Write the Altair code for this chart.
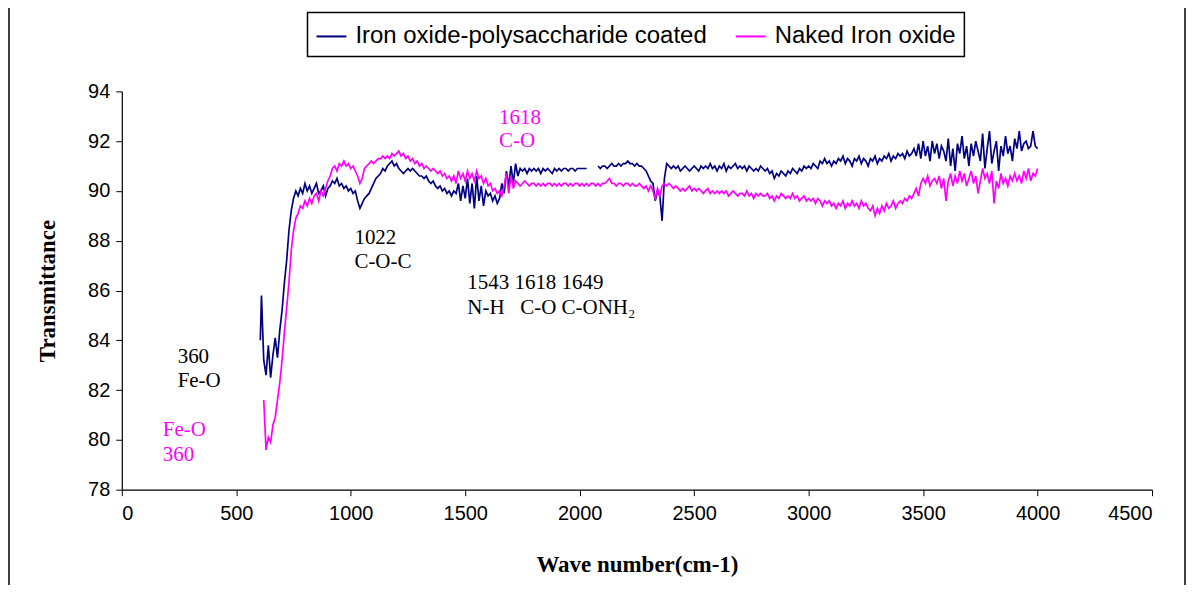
import altair as alt
import pandas as pd
import numpy as np

# wave number grid (cm-1)
wn = [605] + list(range(610, 4001, 10))

coated = [
    84.0,
    85.8, 83.2, 82.6, 83.8, 82.5, 83.4, 84.1, 83.3, 84.4, 85.2,
    86.3, 87.2, 88.4, 89.2, 89.7, 90.0, 89.8, 90.1, 89.9, 90.3,
    90.0, 90.2, 89.9, 90.1, 90.3, 89.9, 90.0, 90.2, 89.8, 90.1,
    90.2, 90.4, 90.3, 90.5, 90.2, 90.3, 90.1, 90.2, 90.0, 90.1,
    89.9, 90.0, 89.6, 89.3, 89.5, 89.7, 89.8, 89.9, 90.1, 90.3,
    90.5, 90.6, 90.7, 90.9, 90.8, 91.0, 91.1, 91.2, 91.0, 91.1,
    90.9, 90.8, 90.7, 90.8, 90.9, 90.8, 90.9, 90.8, 90.7, 90.6,
    90.6, 90.5, 90.6, 90.4, 90.3, 90.4, 90.2, 90.1, 90.2, 90.0,
    90.1, 89.9, 90.0, 89.8, 90.0, 89.9, 90.3, 89.6, 90.2, 89.7,
    90.5, 89.5, 90.3, 89.3, 90.6, 89.6, 90.2, 89.4, 90.0, 89.8,
    89.9, 89.6, 89.8, 89.5, 89.7, 90.3, 89.9, 90.8, 90.2, 91.0,
    90.3, 91.1, 90.6, 90.9, 90.8, 90.9, 90.7, 90.9, 90.8, 90.9,
    90.8, 90.9, 90.7, 90.9, 90.8, 90.9, 90.8, 90.7, 90.9, 90.8,
    90.9, 90.8, 90.9, 90.9, 90.8, 90.9, 90.9, 90.8, 90.9, 90.9,
    90.9, 90.9, 90.9, None, None, None, None, 91.0, 90.9, 91.0,
    91.0, 90.9, 91.0, 91.1, 91.0, 91.0, 91.1, 91.0, 91.1, 91.1,
    91.2, 91.1, 91.1, 91.0, 91.1, 91.0, 91.0, 90.9, 90.8, 90.6,
    90.4, 90.3, 89.6, 90.0, 89.8, 88.8, 90.5, 91.1, 91.0, 90.9,
    91.0, 90.9, 91.0, 90.8, 90.9, 91.0, 90.9, 90.8, 90.9, 91.0,
    90.9, 90.8, 91.0, 90.9, 91.0, 90.9, 91.1, 90.9, 91.0, 90.8,
    91.0, 90.9, 91.1, 90.8, 91.0, 90.9, 91.0, 91.1, 90.9, 91.0,
    90.9, 91.0, 90.8, 91.0, 90.9, 90.8, 90.9, 90.8, 91.0, 90.9,
    90.8, 90.9, 90.7, 90.8, 90.5, 90.7, 90.6, 90.8, 90.7, 90.6,
    90.8, 90.7, 90.9, 90.8, 90.7, 90.9, 90.8, 91.0, 90.9, 91.0,
    90.9, 91.1, 91.0, 90.9, 91.2, 91.1, 91.3, 91.1, 91.2, 91.0,
    91.2, 91.1, 91.3, 91.2, 91.4, 91.1, 91.3, 91.2, 91.0, 91.3,
    91.2, 91.4, 91.1, 91.3, 91.2, 91.0, 91.3, 91.2, 91.4, 91.1,
    91.3, 91.2, 91.4, 91.3, 91.5, 91.2, 91.4, 91.3, 91.5, 91.4,
    91.5, 91.3, 91.6, 91.4, 91.5, 91.7, 91.4, 91.9, 91.3, 92.0,
    91.4, 91.8, 91.2, 92.0, 91.5, 91.9, 91.3, 91.8, 91.6, 91.2,
    92.1, 91.0, 91.7, 90.8, 91.9, 91.5, 92.2, 91.3, 91.8, 91.0,
    91.9, 91.4, 92.0, 91.6, 91.2, 92.3, 90.9, 91.7, 92.4, 91.1,
    91.6, 92.0, 90.8, 91.8, 91.4, 92.2, 91.5, 91.8, 91.2, 92.1,
    91.7, 92.4, 91.6, 91.9, 92.0, 91.7, 91.8, 92.4, 91.8, 91.7,
]

naked = [
    None,
    None, 81.6, 79.6, 80.1, 79.9, 80.6, 80.9, 81.6, 82.3, 83.2,
    84.3, 85.3, 86.3, 87.6, 88.4, 88.9, 89.1, 89.4, 89.3, 89.6,
    89.4, 89.7, 89.5, 89.8, 89.9, 89.6, 90.0, 89.8, 90.1, 90.4,
    90.6, 90.9, 91.0, 90.8, 91.1, 91.0, 91.2, 91.0, 91.1, 90.9,
    91.0, 90.8, 90.6, 90.3, 90.5, 90.9, 91.0, 91.1, 91.2, 91.1,
    91.2, 91.3, 91.3, 91.4, 91.3, 91.4, 91.3, 91.5, 91.4, 91.5,
    91.6, 91.4, 91.5, 91.3, 91.4, 91.2, 91.3, 91.1, 91.2, 91.0,
    91.1, 90.9, 91.0, 90.9, 90.8, 90.9, 90.8, 90.7, 90.8, 90.6,
    90.7, 90.5, 90.6, 90.4, 90.6, 90.3, 90.8, 90.5, 90.7, 90.4,
    90.8, 90.5, 90.7, 90.4, 90.8, 90.5, 90.6, 90.3, 90.5, 90.2,
    90.3, 90.0, 90.1, 89.9, 90.0, 89.8, 90.2, 90.7, 89.9, 90.6,
    90.1, 90.4, 90.3, 90.2, 90.3, 90.4, 90.3, 90.2, 90.3, 90.3,
    90.2, 90.3, 90.2, 90.3, 90.2, 90.3, 90.3, 90.2, 90.3, 90.2,
    90.3, 90.2, 90.3, 90.3, 90.2, 90.3, 90.2, 90.3, 90.3, 90.2,
    90.3, 90.2, 90.3, 90.2, 90.3, 90.3, 90.2, 90.3, 90.2, 90.3,
    90.3, 90.4, 90.5, 90.3, 90.3, 90.2, 90.3, 90.3, 90.2, 90.3,
    90.3, 90.2, 90.3, 90.2, 90.2, 90.3, 90.2, 90.1, 90.2, 90.0,
    90.2, 90.0, 89.7, 90.1, 89.8, 90.2, 90.3, 90.2, 90.3, 90.2,
    90.1, 90.2, 90.1, 90.0, 90.1, 90.0, 90.1, 90.2, 90.0, 90.1,
    90.0, 90.1, 90.0, 89.9, 90.0, 90.1, 89.9, 90.0, 89.9, 90.0,
    89.9, 90.0, 89.9, 90.0, 89.8, 89.9, 90.0, 89.9, 89.8, 89.9,
    89.9, 89.8, 90.0, 89.8, 89.9, 89.7, 89.9, 89.8, 89.9, 89.8,
    89.8, 89.9, 89.7, 89.8, 89.6, 89.8, 89.7, 89.9, 89.8, 89.7,
    89.8, 89.7, 89.9, 89.7, 89.8, 89.6, 89.7, 89.8, 89.6, 89.7,
    89.6, 89.7, 89.5, 89.7, 89.6, 89.4, 89.6, 89.5, 89.6, 89.4,
    89.5, 89.3, 89.5, 89.4, 89.6, 89.3, 89.5, 89.4, 89.6, 89.4,
    89.5, 89.3, 89.6, 89.4, 89.5, 89.3, 89.2, 89.4, 89.0, 89.3,
    89.1, 89.4, 89.2, 89.5, 89.3, 89.4, 89.6, 89.3, 89.5, 89.6,
    89.5, 89.7, 89.6, 89.8, 89.7, 89.9, 90.1, 89.8, 90.3, 90.5,
    90.3, 90.6, 90.2, 90.4, 90.5, 90.3, 90.6, 90.1, 90.5, 89.6,
    90.4, 90.7, 90.2, 90.6, 90.3, 90.8, 90.4, 90.7, 90.2, 90.5,
    90.8, 90.3, 90.6, 89.9, 90.4, 90.9, 90.5, 90.7, 90.3, 90.8,
    89.5, 90.4, 90.1, 90.7, 90.3, 90.5, 90.2, 90.6, 90.4, 90.7,
    90.4, 90.6, 90.3, 90.8, 90.5, 90.9, 90.4, 90.7, 90.6, 90.9,
]

series_names = ["Iron oxide-polysaccharide coated", "Naked Iron oxide"]
series_colors = ["#000080", "#ff00ff"]

x_ticks = [0, 500, 1000, 1500, 2000, 2500, 3000, 3500, 4000, 4500]
y_ticks = [78, 80, 82, 84, 86, 88, 90, 92, 94]

NB = "\u00a0"
ann_text = ["360", "Fe-O", "Fe-O", "360", "1022", "C-O-C",
            "1543 1618 1649", "N-H" + NB * 3 + "C-O C-ONH\u2082", "1618", "C-O"]
ann_x = [244, 244, 179, 179, 1016, 1016, 1509, 1509, 1648, 1648]
ann_y = [83.33, 82.37, 80.41, 79.40, 88.11, 87.14, 86.30, 85.30, 92.92, 91.99]
ann_color = ["black", "black", "#ff00ff", "#ff00ff", "black", "black",
             "black", "black", "#ff00ff", "#ff00ff"]

rows = []
for name, vals in zip(series_names, [coated, naked]):
    started = False
    for w, v in zip(wn, vals):
        if v is None and not started:
            continue
        started = True
        rows.append({"series": name, "wn": w, "val": np.nan if v is None else v})
df = pd.DataFrame(rows)

ann = pd.DataFrame({"text": ann_text, "wn": ann_x, "val": ann_y, "color": ann_color})

lines = alt.Chart(df).mark_line(strokeWidth=1.7, invalid="break-paths-show-domains").encode(
    x=alt.X("wn:Q", scale=alt.Scale(domain=[0, 4500], nice=False),
            axis=alt.Axis(values=x_ticks, title="Wave number(cm-1)", format="d")),
    y=alt.Y("val:Q", scale=alt.Scale(domain=[78, 94], nice=False, zero=False),
            axis=alt.Axis(values=y_ticks, title="Transmittance")),
    color=alt.Color("series:N",
                    scale=alt.Scale(domain=series_names, range=series_colors),
                    legend=alt.Legend(title=None, orient="none", legendX=186, legendY=-79,
                                      direction="horizontal", labelLimit=600)),
    order="wn:Q",
)

texts = alt.Chart(ann).mark_text(align="left", baseline="middle", font="Liberation Serif",
                                 fontSize=21).encode(
    x="wn:Q", y="val:Q", text="text:N",
    color=alt.Color("color:N", scale=None),
)

frame_left = alt.Chart(pd.DataFrame({"k": [0]})).mark_rule(color="black", strokeWidth=1.5).encode(
    x=alt.value(-113), y=alt.value(-91), y2=alt.value(520),
)
frame_right = alt.Chart(pd.DataFrame({"k": [0]})).mark_rule(color="black", strokeWidth=1.5).encode(
    x=alt.value(1065), y=alt.value(-91), y2=alt.value(520),
)

chart = alt.layer(frame_left, frame_right, lines, texts).resolve_scale(color="independent").properties(
    width=1032, height=399,
    autosize=alt.AutoSizeParams(type="none"),
    padding={"left": 114, "top": 83, "right": 35, "bottom": 95},
).configure_view(stroke=None).configure_axis(
    domainColor="black", tickColor="black", grid=False, tickSize=6,
    labelFont="Liberation Sans", labelFontSize=20, labelColor="black",
    titleFont="Liberation Serif", titleFontSize=23, titleFontWeight="bold", titleColor="black",
    domainWidth=1.2,
).configure_axisX(titlePadding=30, labelPadding=8).configure_axisY(titlePadding=28, labelPadding=6).configure_legend(
    strokeColor="black", strokeWidth=1.5, fillColor="white", padding=8,
    labelFont="Liberation Sans", labelFontSize=24, labelColor="black",
    symbolType="stroke", symbolStrokeWidth=2, symbolSize=900, columnPadding=24,
    labelOffset=8, cornerRadius=0,
)

chart.save("out.html", embed_options={"renderer": "svg", "actions": False})
